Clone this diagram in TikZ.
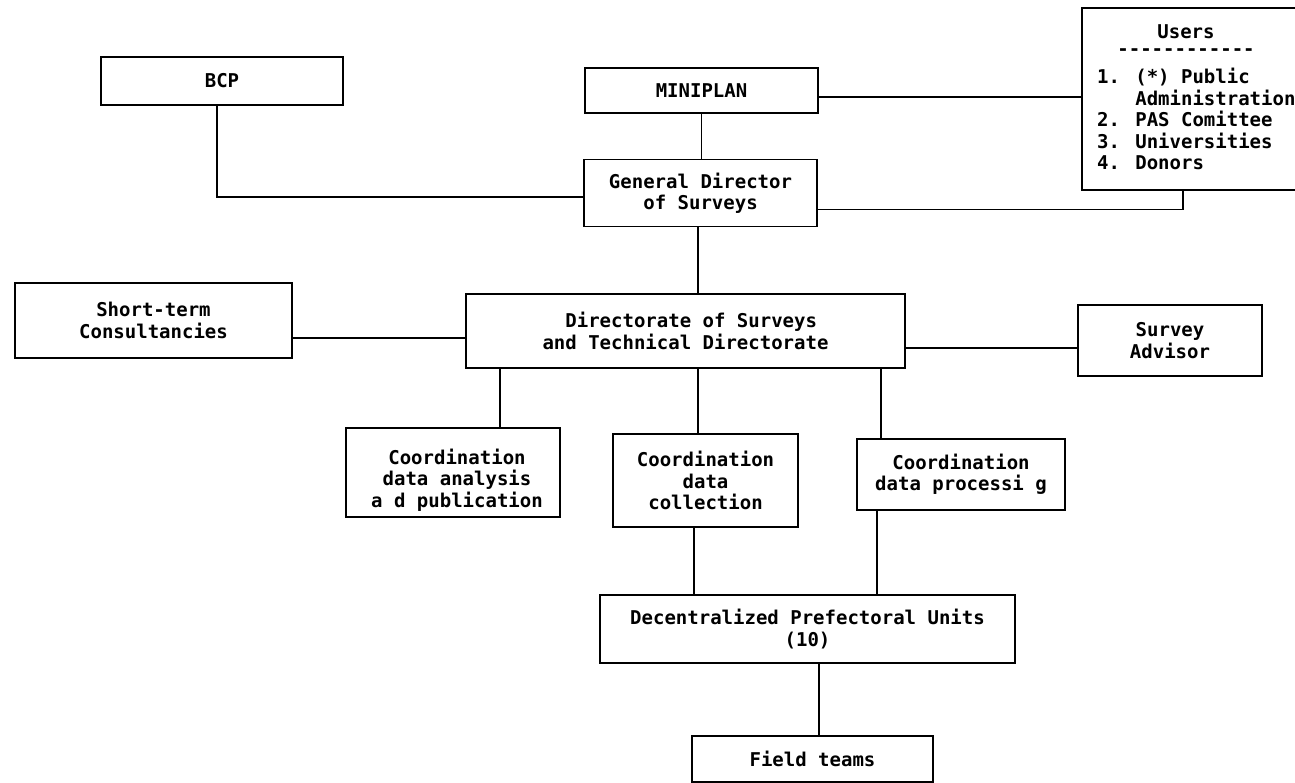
\documentclass[tikz,border=0pt]{standalone}
\usepackage{fontspec}
\setmainfont{DejaVu Sans Mono}[Ligatures=TeXOff]
\begin{document}
\begin{tikzpicture}[x=1pt,y=-1pt,
  box/.style={draw, line width=1.7pt, inner sep=0pt, align=center,
    font=\fontsize{19}{21.5}\selectfont\bfseries},
  txt/.style={inner sep=0pt, align=left, font=\fontsize{19}{21.5}\selectfont\bfseries},
  link/.style={line width=1.7pt}]
\useasboundingbox (0,0) rectangle (1295,783);
% boxes
\node[box, minimum width=242pt, minimum height=48pt] (bcp) at (222,81) {BCP};
\node[box, minimum width=233pt, minimum height=45pt] (mini) at (701.5,90.5) {MINIPLAN};
\node[box, minimum width=238pt, minimum height=182pt] (users) at (1201,99) {};
\node[txt] (ut) at (1186,32) {Users};
\node[txt] (ud) at (1186,52) {------------};
\node[txt, anchor=north west] (ul) at (1097,68) {1. (*) Public\\\phantom{1. }Administration\\2. PAS Comittee\\3. Universities\\4. Donors};
\node[box, minimum width=233pt, minimum height=67pt] (gd) at (700.5,193) {General Director\\of Surveys};
\node[box, minimum width=277pt, minimum height=75pt] (st) at (153.5,320.5) {Short-term\\Consultancies};
\node[box, minimum width=439pt, minimum height=74pt] (dir) at (685.5,331) {\hspace{0.6em}Directorate of Surveys\\and Technical Directorate};
\node[box, minimum width=184pt, minimum height=71pt] (sa) at (1170,340.5) {Survey\\Advisor};
\node[box, minimum width=214pt, minimum height=89pt] (c1) at (453,472.5) {};
\node[txt, align=center] (c1t) at (457,480) {Coordination\\data analysis\\a d publication};
\node[box, minimum width=185pt, minimum height=93pt] (c2) at (705.5,480.5) {Coordination\\data\\collection};
\node[box, minimum width=208pt, minimum height=71pt] (c3) at (961,474.5) {Coordination\\data processi g};
\node[box, minimum width=415pt, minimum height=68pt] (dec) at (807.5,629) {Decentralized Prefectoral Units\\(10)};
\node[box, minimum width=241pt, minimum height=46pt] (ft) at (812.5,759) {Field teams};
% connectors
\draw[link] ([xshift=-5pt]bcp.south) |- ([yshift=-4pt]gd.west);
\draw[link] (mini.south) -- (mini.south |- gd.north);
\draw[link] ([yshift=-6.5pt]mini.east) -- ([yshift=-6.5pt]mini.east -| users.west);
\draw[link] ([xshift=-18pt]users.south) |- ([yshift=-16.5pt]gd.east);
\draw[link] ([xshift=-2.5pt]gd.south) -- ([xshift=-2.5pt]gd.south |- dir.north);
\draw[link] ([yshift=-17.5pt]st.east) -- ([yshift=-17.5pt]st.east -| dir.west);
\draw[link] ([yshift=-17pt]dir.east) -- ([yshift=-17pt]dir.east -| sa.west);
\draw[link] ([xshift=47pt]c1.north) -- ([xshift=47pt]c1.north |- dir.south);
\draw[link] ([xshift=-7.5pt]c2.north) -- ([xshift=-7.5pt]c2.north |- dir.south);
\draw[link] ([xshift=-80pt]c3.north) -- ([xshift=-80pt]c3.north |- dir.south);
\draw[link] ([xshift=-11.5pt]c2.south) -- ([xshift=-11.5pt]c2.south |- dec.north);
\draw[link] ([xshift=-84pt]c3.south) -- ([xshift=-84pt]c3.south |- dec.north);
\draw[link] ([xshift=11.5pt]dec.south) -- ([xshift=11.5pt]dec.south |- ft.north);
\end{tikzpicture}
\end{document}
